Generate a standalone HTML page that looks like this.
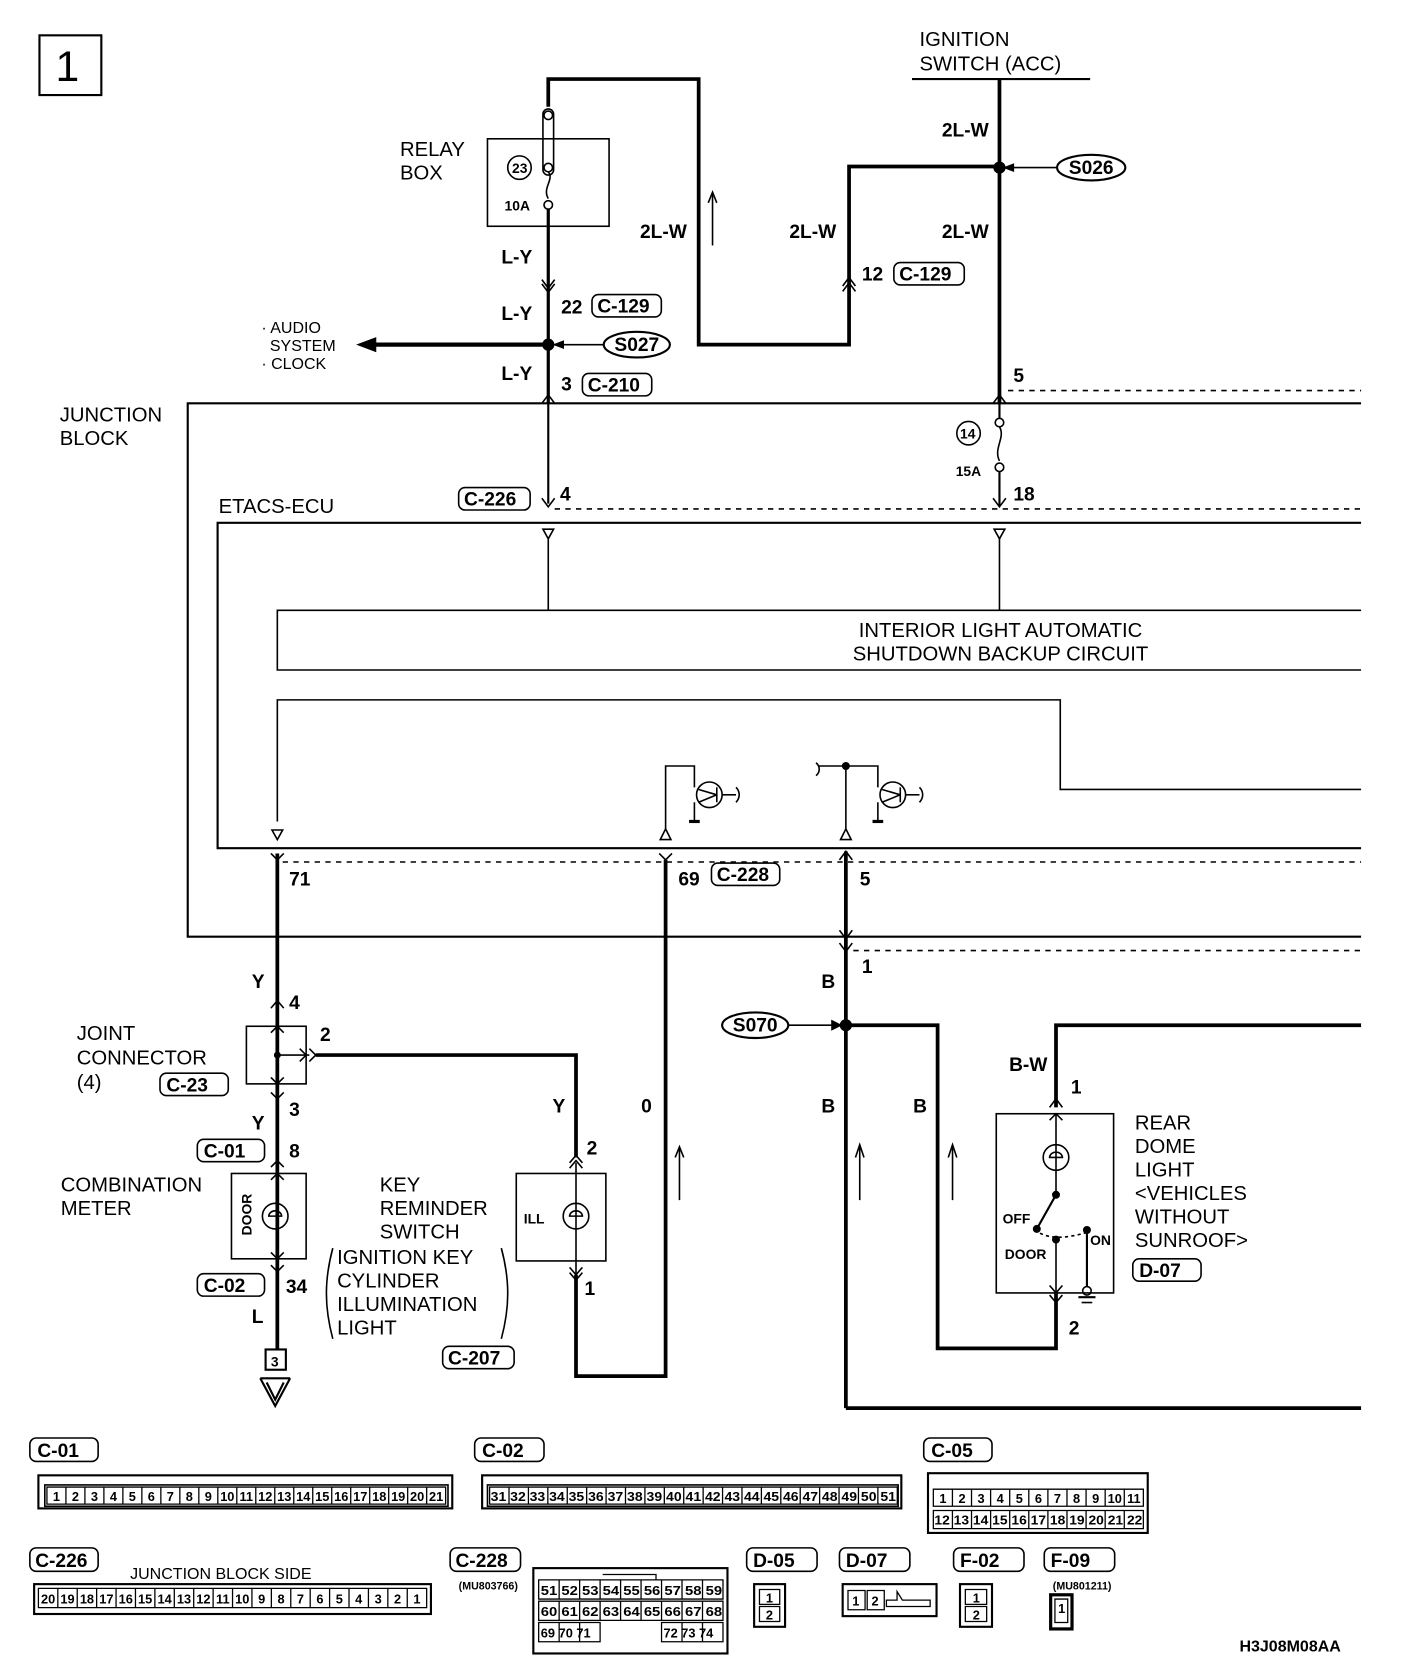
<!DOCTYPE html>
<html><head><meta charset="utf-8"><style>
html,body{margin:0;padding:0;background:#fff;}
svg{display:block;}
text{font-family:"Liberation Sans",sans-serif;fill:#000;}
.c{font-size:19px;}
.n{font-size:18px;font-weight:bold;}
.s{font-size:13px;font-weight:bold;}
.p{font-size:12px;font-weight:bold;}
.q{font-size:12px;font-weight:bold;text-anchor:middle;}
</style></head><body>
<svg width="1408" height="1676" viewBox="0 0 1320 1571" xmlns="http://www.w3.org/2000/svg">
<g fill="none" stroke="#000" stroke-width="1.5">
<rect x="37" y="33" width="58" height="56" stroke-width="2"/>
<polyline points="514,100 514,74 655,74 655,323 796,323 796,156 937,156" stroke-width="3.5"/>
<line x1="855" y1="74" x2="1022" y2="74" stroke-width="2"/>
<line x1="937" y1="74" x2="937" y2="378" stroke-width="3.5"/>
<line x1="668" y1="230" x2="668" y2="182"/>
<polyline points="664,190 668,180 672,190" />
<rect x="457" y="130" width="114" height="82"/>
<rect x="509" y="102" width="10" height="62" rx="5"/>
<circle cx="514" cy="108" r="4"/><circle cx="514" cy="157" r="4"/>
<path d="M514,161 C520,168 508,176 514,186"/>
<circle cx="514" cy="192" r="4"/>
<circle cx="487" cy="157" r="11"/>
<line x1="514" y1="196" x2="514" y2="378" stroke-width="3"/>
<polyline points="508,262 514,270 520,262"/><polyline points="508,266 514,274 520,266"/>
<polyline points="346,323 514,323" stroke-width="4"/>
<polygon points="336,323 352,317 352,329" fill="#000"/>
<circle cx="514" cy="323" r="5" fill="#000"/>
<line x1="566" y1="323" x2="522" y2="323"/><polygon points="520,323 528,320 528,326" fill="#000"/>
<polyline points="508,378 514,370 520,378"/>
<line x1="514" y1="378" x2="514" y2="472" stroke-width="2"/>
<polyline points="508,467 514,475 520,467"/>
<line x1="990" y1="157" x2="945" y2="157"/><polygon points="942,157 950,154 950,160" fill="#000"/>
<circle cx="937" cy="157" r="5" fill="#000"/>
<polyline points="790,268 796,260 802,268"/><polyline points="790,273 796,265 802,273"/>
<polyline points="1276,378 176,378 176,878 1276,878" stroke-width="2"/>
<line x1="945" y1="366" x2="1276" y2="366" stroke-dasharray="5,5"/>
<line x1="520" y1="477" x2="1276" y2="477" stroke-dasharray="5,5"/>
<polyline points="931,378 937,370 943,378"/>
<line x1="937" y1="378" x2="937" y2="392" stroke-width="2"/>
<circle cx="937" cy="396" r="4"/><path d="M937,400 C943,410 931,420 937,432"/><circle cx="937" cy="438" r="4"/>
<line x1="937" y1="442" x2="937" y2="474" stroke-width="2"/>
<polyline points="931,467 937,475 943,467"/>
<circle cx="908" cy="406" r="11"/>
<polyline points="1276,490 204,490 204,795 1276,795" stroke-width="2"/>
<polygon points="509,496 519,496 514,505"/><polygon points="932,496 942,496 937,505"/>
<line x1="514" y1="505" x2="514" y2="572"/><line x1="937" y1="505" x2="937" y2="572"/>
<polyline points="1276,572 260,572 260,628 1276,628"/>
<polyline points="260,770 260,656 994,656 994,740 1276,740"/>
<polygon points="255,778 265,778 260,787"/>
<polyline points="624,777 624,718 651,718 651,738"/>
<polygon points="619,787 629,787 624,777"/>
<circle cx="665" cy="745" r="12"/>
<line x1="655" y1="740" x2="672" y2="745"/><line x1="655" y1="752" x2="672" y2="745"/><line x1="672" y1="738" x2="672" y2="752"/>
<line x1="677" y1="745" x2="690" y2="745"/><path d="M690,738 C694,742 694,748 690,752"/>
<line x1="651" y1="752" x2="651" y2="770"/><line x1="646" y1="770" x2="656" y2="770" stroke-width="3"/>
<path d="M765,715 C769,718 769,724 765,727"/>
<polyline points="767,718 823,718 823,738"/>
<circle cx="793" cy="718" r="3" fill="#000"/>
<line x1="793" y1="718" x2="793" y2="777"/>
<polygon points="788,787 798,787 793,777"/>
<circle cx="837" cy="745" r="12"/>
<line x1="827" y1="740" x2="844" y2="745"/><line x1="827" y1="752" x2="844" y2="745"/><line x1="844" y1="738" x2="844" y2="752"/>
<line x1="849" y1="745" x2="862" y2="745"/><path d="M862,738 C866,742 866,748 862,752"/>
<line x1="823" y1="752" x2="823" y2="770"/><line x1="818" y1="770" x2="828" y2="770" stroke-width="3"/>
<line x1="265" y1="808" x2="1276" y2="808" stroke-dasharray="5,5"/>
<line x1="800" y1="891" x2="1276" y2="891" stroke-dasharray="5,5"/>
<polyline points="254,800 260,806 266,800"/>
<line x1="260" y1="800" x2="260" y2="1265" stroke-width="3.5"/>
<polyline points="254,945 260,938 266,945"/>
<rect x="231" y="962" width="56" height="54"/>
<polyline points="254,968 260,962 266,968"/>
<polyline points="254,1010 260,1016 266,1010"/>
<polyline points="254,1024 260,1030 266,1024"/>
<circle cx="260" cy="989" r="2.5" fill="#000"/>
<line x1="260" y1="989" x2="290" y2="989"/>
<polyline points="281,983 287,989 281,995"/><polyline points="290,983 296,989 290,995"/>
<polyline points="296,989 540,989 540,1085" stroke-width="3.5"/>
<polyline points="254,1094 260,1088 266,1094"/>
<rect x="217" y="1100" width="70" height="80"/>
<polyline points="254,1106 260,1100 266,1106"/>
<circle cx="258" cy="1140" r="12"/><path d="M252,1140 A6,5 0 1 1 264,1140 Z"/>
<polyline points="254,1174 260,1180 266,1174"/>
<polyline points="254,1186 260,1192 266,1186"/>
<rect x="249" y="1265" width="19" height="19" stroke-width="2"/>
<line x1="244" y1="1292" x2="272" y2="1292" stroke-width="2"/>
<polyline points="244,1292 258,1318 272,1292" stroke-width="2"/>
<polyline points="250,1296 258,1312 266,1296" stroke-width="2"/>
<rect x="484" y="1100" width="84" height="82"/>
<polyline points="534,1090 540,1083 546,1090"/><polyline points="534,1095 540,1088 546,1095"/>
<line x1="540" y1="1090" x2="540" y2="1195"/>
<circle cx="540" cy="1140" r="12"/><path d="M534,1140 A6,5 0 1 1 546,1140 Z"/>
<polyline points="534,1188 540,1195 546,1188"/><polyline points="534,1193 540,1200 546,1193"/>
<polyline points="540,1195 540,1290 624,1290 624,806" stroke-width="3.5"/>
<polyline points="618,800 624,806 630,800"/>
<line x1="637" y1="1125" x2="637" y2="1077"/><polyline points="633,1085 637,1075 641,1085"/>
<path d="M312,1170 C304,1200 304,1225 312,1255"/><path d="M470,1170 C478,1200 478,1225 470,1255"/>
<polyline points="787,806 793,798 799,806"/>
<line x1="793" y1="798" x2="793" y2="1320" stroke-width="3.5"/>
<polyline points="787,872 793,880 799,872"/><polyline points="787,884 793,892 799,884"/>
<line x1="793" y1="1320" x2="1276" y2="1320" stroke-width="3.5"/>
<ellipse cx="708" cy="961" rx="31" ry="12" stroke-width="2"/>
<line x1="739" y1="961" x2="785" y2="961"/><polygon points="788,961 780,957 780,965" fill="#000"/>
<circle cx="793" cy="961" r="5" fill="#000"/>
<polyline points="793,961 879,961 879,1264 990,1264 990,1212" stroke-width="3.5"/>
<line x1="806" y1="1125" x2="806" y2="1075"/><polyline points="802,1085 806,1073 810,1085"/>
<line x1="893" y1="1125" x2="893" y2="1075"/><polyline points="889,1085 893,1073 897,1085"/>
<polyline points="1276,961 990,961 990,1038" stroke-width="3.5"/>
<polyline points="984,1038 990,1030 996,1038"/>
<rect x="934" y="1044" width="110" height="168"/>
<polyline points="984,1050 990,1044 996,1050"/>
<line x1="990" y1="1044" x2="990" y2="1120"/>
<circle cx="990" cy="1085" r="12"/><path d="M984,1085 A6,5 0 1 1 996,1085 Z"/>
<circle cx="990" cy="1120" r="3" fill="#000"/>
<line x1="990" y1="1120" x2="972" y2="1152" stroke-width="2"/>
<circle cx="972" cy="1152" r="3" fill="#000"/>
<path d="M975,1156 Q990,1164 1020,1155" stroke-dasharray="3,3"/>
<circle cx="990" cy="1162" r="3" fill="#000"/><circle cx="1019" cy="1153" r="3" fill="#000"/>
<line x1="990" y1="1162" x2="990" y2="1215"/>
<polyline points="984,1205 990,1212 996,1205"/><polyline points="984,1214 990,1221 996,1214"/>
<line x1="1019" y1="1153" x2="1019" y2="1206" stroke-width="2"/>
<circle cx="1019" cy="1210" r="4"/>
<line x1="1011" y1="1216" x2="1027" y2="1216" stroke-width="2"/><line x1="1014" y1="1221" x2="1024" y2="1221"/>
<rect x="555" y="276" width="65" height="21" rx="6"/>
<rect x="838" y="246" width="66" height="21" rx="6"/>
<rect x="546" y="350" width="65" height="21" rx="6"/>
<ellipse cx="1023" cy="157" rx="32" ry="12" stroke-width="2"/>
<ellipse cx="597" cy="323" rx="31" ry="12" stroke-width="2"/>
<rect x="430" y="457" width="67" height="21" rx="6"/>
<rect x="667" y="809" width="64" height="21" rx="6"/>
<rect x="150" y="1006" width="64" height="21" rx="6"/>
<rect x="185" y="1068" width="63" height="21" rx="6"/>
<rect x="185" y="1194" width="63" height="21" rx="6"/>
<rect x="415" y="1262" width="67" height="21" rx="6"/>
<rect x="1062" y="1180" width="64" height="21" rx="6"/>
<rect x="28" y="1348" width="64" height="22" rx="6"/>
<rect x="445" y="1348" width="65" height="22" rx="6"/>
<rect x="866" y="1348" width="64" height="22" rx="6"/>
<rect x="28" y="1451" width="64" height="22" rx="6"/>
<rect x="422" y="1451" width="66" height="22" rx="6"/>
<rect x="700" y="1451" width="66" height="22" rx="6"/>
<rect x="787" y="1451" width="66" height="22" rx="6"/>
<rect x="894" y="1451" width="66" height="22" rx="6"/>
<rect x="979" y="1451" width="66" height="22" rx="6"/>
<rect x="36" y="1383" width="388" height="31" stroke-width="2"/>
<rect x="42" y="1392" width="378" height="20"/>
<rect x="452" y="1383" width="393" height="31" stroke-width="2"/>
<rect x="457" y="1392" width="385" height="20"/>
<rect x="870" y="1381" width="206" height="56" stroke-width="2"/>
<rect x="32" y="1485" width="372" height="28" stroke-width="2"/>
<rect x="500" y="1470" width="182" height="80" stroke-width="2"/>
<rect x="707" y="1485" width="29" height="40" stroke-width="2"/>
<rect x="790" y="1485" width="88" height="30" stroke-width="2"/>
<rect x="900" y="1485" width="30" height="40" stroke-width="2"/>
<rect x="985" y="1495" width="20" height="32" stroke-width="3"/>
</g>
<g stroke="#000" stroke-width="1.2" fill="none">
<path d="M44,1394h17.8v16h-17.8zM61.8,1394h17.8v16h-17.8zM79.6,1394h17.8v16h-17.8zM97.4,1394h17.8v16h-17.8zM115.2,1394h17.8v16h-17.8zM133,1394h17.8v16h-17.8zM150.8,1394h17.8v16h-17.8zM168.6,1394h17.8v16h-17.8zM186.4,1394h17.8v16h-17.8zM204.2,1394h17.8v16h-17.8zM222,1394h17.8v16h-17.8zM239.8,1394h17.8v16h-17.8zM257.6,1394h17.8v16h-17.8zM275.4,1394h17.8v16h-17.8zM293.2,1394h17.8v16h-17.8zM311,1394h17.8v16h-17.8zM328.8,1394h17.8v16h-17.8zM346.6,1394h17.8v16h-17.8zM364.4,1394h17.8v16h-17.8zM382.2,1394h17.8v16h-17.8zM400,1394h17.8v16h-17.8z"/>
<path d="M459,1394h18.2v16h-18.2zM477.2,1394h18.2v16h-18.2zM495.4,1394h18.2v16h-18.2zM513.6,1394h18.2v16h-18.2zM531.8,1394h18.2v16h-18.2zM550,1394h18.2v16h-18.2zM568.2,1394h18.2v16h-18.2zM586.4,1394h18.2v16h-18.2zM604.6,1394h18.2v16h-18.2zM622.8,1394h18.2v16h-18.2zM641,1394h18.2v16h-18.2zM659.2,1394h18.2v16h-18.2zM677.4,1394h18.2v16h-18.2zM695.6,1394h18.2v16h-18.2zM713.8,1394h18.2v16h-18.2zM732,1394h18.2v16h-18.2zM750.2,1394h18.2v16h-18.2zM768.4,1394h18.2v16h-18.2zM786.6,1394h18.2v16h-18.2zM804.8,1394h18.2v16h-18.2zM823,1394h18.2v16h-18.2z"/>
<path d="M875,1396h17.9v16h-17.9zM892.9,1396h17.9v16h-17.9zM910.8,1396h17.9v16h-17.9zM928.7,1396h17.9v16h-17.9zM946.6,1396h17.9v16h-17.9zM964.5,1396h17.9v16h-17.9zM982.4,1396h17.9v16h-17.9zM1000.3,1396h17.9v16h-17.9zM1018.2,1396h17.9v16h-17.9zM1036.1,1396h17.9v16h-17.9zM1054,1396h17.9v16h-17.9z"/>
<path d="M875,1416h17.9v17h-17.9zM892.9,1416h17.9v17h-17.9zM910.8,1416h17.9v17h-17.9zM928.7,1416h17.9v17h-17.9zM946.6,1416h17.9v17h-17.9zM964.5,1416h17.9v17h-17.9zM982.4,1416h17.9v17h-17.9zM1000.3,1416h17.9v17h-17.9zM1018.2,1416h17.9v17h-17.9zM1036.1,1416h17.9v17h-17.9zM1054,1416h17.9v17h-17.9z"/>
<path d="M36,1489h18.2v18h-18.2zM54.2,1489h18.2v18h-18.2zM72.4,1489h18.2v18h-18.2zM90.6,1489h18.2v18h-18.2zM108.8,1489h18.2v18h-18.2zM127,1489h18.2v18h-18.2zM145.2,1489h18.2v18h-18.2zM163.4,1489h18.2v18h-18.2zM181.6,1489h18.2v18h-18.2zM199.8,1489h18.2v18h-18.2zM218,1489h18.2v18h-18.2zM236.2,1489h18.2v18h-18.2zM254.4,1489h18.2v18h-18.2zM272.6,1489h18.2v18h-18.2zM290.8,1489h18.2v18h-18.2zM309,1489h18.2v18h-18.2zM327.2,1489h18.2v18h-18.2zM345.4,1489h18.2v18h-18.2zM363.6,1489h18.2v18h-18.2zM381.8,1489h18.2v18h-18.2z"/>
<path d="M505,1481h19.2v18h-19.2zM524.2,1481h19.2v18h-19.2zM543.4,1481h19.2v18h-19.2zM562.6,1481h19.2v18h-19.2zM581.8,1481h19.2v18h-19.2zM601,1481h19.2v18h-19.2zM620.2,1481h19.2v18h-19.2zM639.4,1481h19.2v18h-19.2zM658.6,1481h19.2v18h-19.2z"/>
<path d="M505,1501h19.2v18h-19.2zM524.2,1501h19.2v18h-19.2zM543.4,1501h19.2v18h-19.2zM562.6,1501h19.2v18h-19.2zM581.8,1501h19.2v18h-19.2zM601,1501h19.2v18h-19.2zM620.2,1501h19.2v18h-19.2zM639.4,1501h19.2v18h-19.2zM658.6,1501h19.2v18h-19.2z"/>
<path d="M505,1521h19.2v18h-19.2zM524.2,1521h19.2v18h-19.2zM543.4,1521h19.2v18h-19.2zM620.2,1521h19.2v18h-19.2zM639.4,1521h19.2v18h-19.2zM658.6,1521h19.2v18h-19.2z"/>
<path d="M712,1490h19v14h-19zM712,1506h19v14h-19zM795,1491h16v18h-16zM813,1491h16v18h-16zM905,1490h20v14h-20zM905,1506h20v14h-20zM989,1499h12v22h-12z"/>
<path d="M831,1500h10v-8l5,8h26v6h-41z"/>
<path d="M565,1476h50v5"/>
</g>
<text x="52" y="76" style="font-size:40px">1</text>
<text class="c" x="862" y="43">IGNITION</text>
<text class="c" x="862" y="66">SWITCH (ACC)</text>
<text class="c" x="375" y="146">RELAY</text>
<text class="c" x="375" y="168">BOX</text>
<text class="s" x="480" y="162">23</text>
<text class="s" x="473" y="197">10A</text>
<text class="n" x="883" y="128">2L-W</text>
<text class="n" x="883" y="223">2L-W</text>
<text class="n" x="600" y="223">2L-W</text>
<text class="n" x="740" y="223">2L-W</text>
<text class="n" x="808" y="263">12</text><text class="n" x="843" y="263">C-129</text>
<text class="n" x="470" y="247">L-Y</text>
<text class="n" x="470" y="300">L-Y</text>
<text class="n" x="470" y="356">L-Y</text>
<text class="n" x="526" y="294">22</text><text class="n" x="560" y="293">C-129</text>
<text class="n" x="526" y="366">3</text><text class="n" x="551" y="367">C-210</text>
<text class="n" x="1002" y="163">S026</text>
<text class="n" x="576" y="329">S027</text>
<text style="font-size:15px" x="245" y="312">· AUDIO</text>
<text style="font-size:15px" x="253" y="329">SYSTEM</text>
<text style="font-size:15px" x="245" y="346">· CLOCK</text>
<text class="n" x="950" y="358">5</text>
<text class="c" x="56" y="395">JUNCTION</text>
<text class="c" x="56" y="417">BLOCK</text>
<text class="s" x="900" y="411">14</text>
<text class="s" x="896" y="446">15A</text>
<text class="n" x="950" y="469">18</text>
<text class="n" x="435" y="474">C-226</text><text class="n" x="525" y="469">4</text>
<text class="c" x="205" y="481">ETACS-ECU</text>
<text class="c" x="938" y="597" text-anchor="middle">INTERIOR LIGHT AUTOMATIC</text>
<text class="c" x="938" y="619" text-anchor="middle">SHUTDOWN BACKUP CIRCUIT</text>
<text class="n" x="271" y="830">71</text>
<text class="n" x="636" y="830">69</text><text class="n" x="672" y="826">C-228</text>
<text class="n" x="806" y="830">5</text>
<text class="n" x="808" y="912">1</text>
<text class="n" x="236" y="926">Y</text>
<text class="n" x="271" y="946">4</text>
<text class="n" x="300" y="976">2</text>
<text class="c" x="72" y="975">JOINT</text>
<text class="c" x="72" y="998">CONNECTOR</text>
<text class="c" x="72" y="1021">(4)</text>
<text class="n" x="156" y="1023">C-23</text>
<text class="n" x="271" y="1046">3</text>
<text class="n" x="236" y="1059">Y</text>
<text class="n" x="191" y="1085">C-01</text><text class="n" x="271" y="1085">8</text>
<text class="c" x="57" y="1117">COMBINATION</text>
<text class="c" x="57" y="1139">METER</text>
<text class="s" transform="translate(236,1158) rotate(-90)" x="0" y="0">DOOR</text>
<text class="n" x="191" y="1211">C-02</text><text class="n" x="268" y="1212">34</text>
<text class="n" x="236" y="1240">L</text>
<text class="s" x="254" y="1281">3</text>
<text class="n" x="518" y="1043">Y</text>
<text class="n" x="550" y="1082">2</text>
<text class="n" x="601" y="1043">0</text>
<text class="c" x="356" y="1117">KEY</text>
<text class="c" x="356" y="1139">REMINDER</text>
<text class="c" x="356" y="1161">SWITCH</text>
<text class="c" x="316" y="1185">IGNITION KEY</text>
<text class="c" x="316" y="1207">CYLINDER</text>
<text class="c" x="316" y="1229">ILLUMINATION</text>
<text class="c" x="316" y="1251">LIGHT</text>
<text class="n" x="420" y="1279">C-207</text>
<text class="s" x="491" y="1147">ILL</text>
<text class="n" x="548" y="1214">1</text>
<text class="n" x="770" y="926">B</text>
<text class="n" x="770" y="1043">B</text>
<text class="n" x="856" y="1043">B</text>
<text class="n" x="687" y="967">S070</text>
<text class="n" x="946" y="1004">B-W</text>
<text class="n" x="1004" y="1025">1</text>
<text class="s" x="940" y="1147">OFF</text>
<text class="s" x="942" y="1180">DOOR</text>
<text class="s" x="1022" y="1167">ON</text>
<text class="n" x="1002" y="1251">2</text>
<text class="c" x="1064" y="1059">REAR</text>
<text class="c" x="1064" y="1081">DOME</text>
<text class="c" x="1064" y="1103">LIGHT</text>
<text class="c" x="1064" y="1125">&lt;VEHICLES</text>
<text class="c" x="1064" y="1147">WITHOUT</text>
<text class="c" x="1064" y="1169">SUNROOF&gt;</text>
<text class="n" x="1068" y="1197">D-07</text>
<text class="n" x="35" y="1366">C-01</text>
<text class="n" x="452" y="1366">C-02</text>
<text class="n" x="873" y="1366">C-05</text>
<text class="n" x="33" y="1469">C-226</text>
<text class="n" x="427" y="1469">C-228</text>
<text class="n" x="706" y="1469">D-05</text>
<text class="n" x="793" y="1469">D-07</text>
<text class="n" x="900" y="1469">F-02</text>
<text class="n" x="985" y="1469">F-09</text>
<text style="font-size:15px" x="122" y="1480">JUNCTION BLOCK SIDE</text>
<text style="font-size:10px;font-weight:bold" x="430" y="1490">(MU803766)</text>
<text style="font-size:10px;font-weight:bold" x="987" y="1490">(MU801211)</text>
<text class="n" x="1162" y="1548" style="font-size:15px">H3J08M08AA</text>
<!-- C-01 pins -->
<text class="q" x="52.9" y="1407">1</text><text class="q" x="70.7" y="1407">2</text><text class="q" x="88.5" y="1407">3</text><text class="q" x="106.3" y="1407">4</text><text class="q" x="124.1" y="1407">5</text><text class="q" x="141.9" y="1407">6</text><text class="q" x="159.7" y="1407">7</text><text class="q" x="177.5" y="1407">8</text><text class="q" x="195.3" y="1407">9</text><text class="q" x="213.1" y="1407">10</text><text class="q" x="230.9" y="1407">11</text><text class="q" x="248.7" y="1407">12</text><text class="q" x="266.5" y="1407">13</text><text class="q" x="284.3" y="1407">14</text><text class="q" x="302.1" y="1407">15</text><text class="q" x="319.9" y="1407">16</text><text class="q" x="337.7" y="1407">17</text><text class="q" x="355.5" y="1407">18</text><text class="q" x="373.3" y="1407">19</text><text class="q" x="391.1" y="1407">20</text><text class="q" x="408.9" y="1407">21</text>
<text class="p" x="460" y="1407" textLength="380" lengthAdjust="spacingAndGlyphs">31 32 33 34 35 36 37 38 39 40 41 42 43 44 45 46 47 48 49 50 51</text>
<!-- C-05 pins -->
<text class="q" x="884" y="1409">1</text><text class="q" x="901.9" y="1409">2</text><text class="q" x="919.8" y="1409">3</text><text class="q" x="937.7" y="1409">4</text><text class="q" x="955.6" y="1409">5</text><text class="q" x="973.5" y="1409">6</text><text class="q" x="991.4" y="1409">7</text><text class="q" x="1009.3" y="1409">8</text><text class="q" x="1027.2" y="1409">9</text><text class="q" x="1045.1" y="1409">10</text><text class="q" x="1063" y="1409">11</text>
<text class="p" x="876" y="1429" textLength="195" lengthAdjust="spacingAndGlyphs">12 13 14 15 16 17 18 19 20 21 22</text>
<!-- C-226 pins -->
<text class="q" x="45.1" y="1503">20</text><text class="q" x="63.3" y="1503">19</text><text class="q" x="81.5" y="1503">18</text><text class="q" x="99.7" y="1503">17</text><text class="q" x="117.9" y="1503">16</text><text class="q" x="136.1" y="1503">15</text><text class="q" x="154.3" y="1503">14</text><text class="q" x="172.5" y="1503">13</text><text class="q" x="190.7" y="1503">12</text><text class="q" x="208.9" y="1503">11</text><text class="q" x="227.1" y="1503">10</text><text class="q" x="245.3" y="1503">9</text><text class="q" x="263.5" y="1503">8</text><text class="q" x="281.7" y="1503">7</text><text class="q" x="299.9" y="1503">6</text><text class="q" x="318.1" y="1503">5</text><text class="q" x="336.3" y="1503">4</text><text class="q" x="354.5" y="1503">3</text><text class="q" x="372.7" y="1503">2</text><text class="q" x="390.9" y="1503">1</text>
<text class="p" x="507" y="1495" textLength="170" lengthAdjust="spacingAndGlyphs">51 52 53 54 55 56 57 58 59</text>
<text class="p" x="507" y="1515" textLength="170" lengthAdjust="spacingAndGlyphs">60 61 62 63 64 65 66 67 68</text>
<text class="p" x="507" y="1535">69 70 71</text>
<text class="p" x="622" y="1535">72 73 74</text>
<text class="p" x="718" y="1502">1</text><text class="p" x="718" y="1518">2</text>
<text class="p" x="799" y="1505">1</text><text class="p" x="817" y="1505">2</text>
<text class="p" x="912" y="1502">1</text><text class="p" x="912" y="1518">2</text>
<text class="p" x="992" y="1512">1</text>
</svg>
</body></html>
